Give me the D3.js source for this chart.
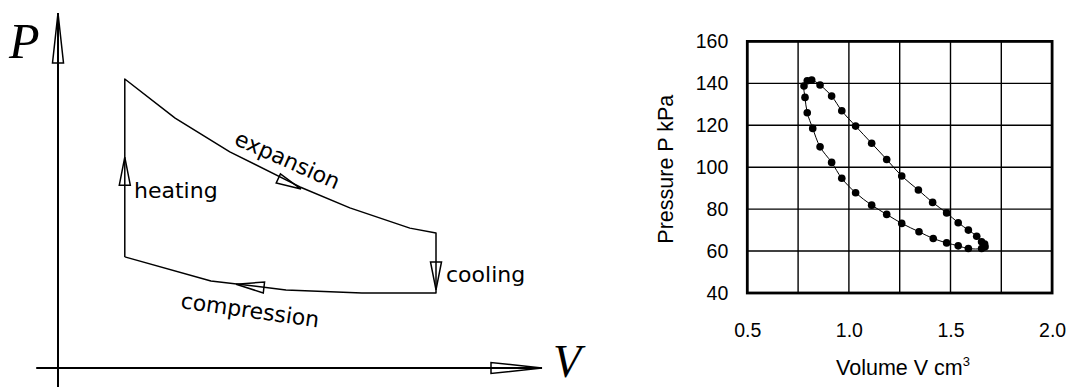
<!DOCTYPE html>
<html>
<head>
<meta charset="utf-8">
<script src="https://cdn.jsdelivr.net/npm/d3@7"></script>
<style>
  html, body { margin: 0; padding: 0; background: #fff; }
  svg { display: block; }
</style>
</head>
<body>
<svg id="chart" width="1070" height="387"></svg>
<script>
// ---- Schematic cycle (left): V and P in arbitrary units ----
const expansionV = [1.38, 2.42, 3.55, 5.00, 6.03, 7.27, 7.81];
const expansionP = [8.14, 7.04, 6.09, 5.10, 4.51, 3.94, 3.80];
const compressionV = [7.81, 6.28, 4.71, 3.16, 1.38];
const compressionP = [2.11, 2.11, 2.20, 2.45, 3.13];
const strokeLabels = ["heating", "expansion", "cooling", "compression"];

// ---- Measured loop (right) ----
const volume = [0.795, 0.817, 0.858, 0.915, 0.965, 1.033, 1.112, 1.186, 1.260, 1.342,
                1.412, 1.481, 1.538, 1.588, 1.629, 1.653, 1.668, 1.670, 1.653, 1.588,
                1.538, 1.481, 1.415, 1.345, 1.260, 1.186, 1.112, 1.033, 0.965, 0.915,
                0.858, 0.822, 0.795, 0.784, 0.779];
const pressure = [141.2, 141.6, 139.2, 133.9, 126.9, 119.6, 111.4, 103.7, 95.8, 89.1,
                  83.2, 78.2, 73.5, 70.0, 67.1, 64.4, 63.4, 62.0, 61.2, 61.2,
                  62.5, 63.9, 66.0, 69.2, 73.2, 77.5, 81.9, 87.8, 94.7, 102.3,
                  109.7, 118.5, 126.0, 133.3, 138.7];
const volumeTicks = [0.5, 1.0, 1.5, 2.0];
const pressureTicks = [40, 60, 80, 100, 120, 140, 160];

const svg = d3.select("#chart");

// ================= Left: schematic P–V diagram =================
const xL = d3.scaleLinear().domain([0, 10]).range([58, 542]);
const yL = d3.scaleLinear().domain([0, 10]).range([368, 13]);
const left = svg.append("g");

// outlined arrowhead whose tip sits at (tx, ty), pointing along angle a
function arrowHead(g, tx, ty, a, len, hw) {
  const c = Math.cos(a), s = Math.sin(a);
  const bx = tx - c * len, by = ty - s * len;
  const pts = [[tx, ty], [bx - s * hw, by + c * hw], [bx + s * hw, by - c * hw]];
  g.append("path")
    .attr("d", d3.line()(pts) + "Z")
    .attr("fill", "none")
    .attr("stroke", "#000")
    .attr("stroke-width", 1.5)
    .attr("stroke-linejoin", "miter");
}

// axes
left.append("line").attr("x1", xL(0)).attr("x2", xL(0))
  .attr("y1", yL(10)).attr("y2", 387)
  .attr("stroke", "#000").attr("stroke-width", 2);
left.append("line").attr("x1", xL(-0.45)).attr("x2", xL(10))
  .attr("y1", yL(0)).attr("y2", yL(0))
  .attr("stroke", "#000").attr("stroke-width", 2);
arrowHead(left, xL(0), yL(10), -Math.PI / 2, 50, 5.5);
arrowHead(left, xL(10), yL(0), 0, 51, 5.5);

left.append("text").attr("x", 9).attr("y", 58)
  .attr("font-family", "Liberation Serif, serif").attr("font-style", "italic")
  .attr("font-size", 50).text("P");
left.append("text").attr("x", 553).attr("y", 377)
  .attr("font-family", "Liberation Serif, serif").attr("font-style", "italic")
  .attr("font-size", 46).text("V");

// cycle path: heating up, expansion, cooling down, compression back
const cyclePts = [];
cyclePts.push([compressionV[compressionV.length - 1], compressionP[compressionP.length - 1]]);
expansionV.forEach((v, i) => cyclePts.push([v, expansionP[i]]));
compressionV.forEach((v, i) => cyclePts.push([v, compressionP[i]]));
left.append("path")
  .attr("d", d3.line().x(d => xL(d[0])).y(d => yL(d[1]))(cyclePts))
  .attr("fill", "none").attr("stroke", "#000").attr("stroke-width", 1.5)
  .attr("stroke-linejoin", "round");

// direction arrows on each stroke
const vH = expansionV[0];
arrowHead(left, xL(vH), yL(5.94), -Math.PI / 2, 28, 5.5);
const vC = expansionV[expansionV.length - 1];
arrowHead(left, xL(vC), yL(2.2), Math.PI / 2, 28, 5.5);
{
  // expansion / compression arrows follow the segment they sit on
  const a = Math.atan2(yL(expansionP[4]) - yL(expansionP[2]), xL(expansionV[4]) - xL(expansionV[2]));
  arrowHead(left, xL(5.02), yL(5.04), a, 25, 5);
  const b = Math.atan2(yL(compressionP[3]) - yL(compressionP[2]), xL(compressionV[3]) - xL(compressionV[2]));
  arrowHead(left, xL(3.68), yL(2.36), b, 28, 5.5);
}

const lblFont = "DejaVu Sans, sans-serif";
const lblSize = 22;
left.append("text").attr("x", 134).attr("y", 198)
  .attr("font-family", lblFont).attr("font-size", lblSize).text(strokeLabels[0]);
left.append("text").attr("transform", "translate(233,144) rotate(24)")
  .attr("font-family", lblFont).attr("font-size", lblSize).text(strokeLabels[1]);
left.append("text").attr("x", 446).attr("y", 282)
  .attr("font-family", lblFont).attr("font-size", lblSize).text(strokeLabels[2]);
left.append("text").attr("transform", "translate(180,308) rotate(8)")
  .attr("font-family", lblFont).attr("font-size", lblSize).text(strokeLabels[3]);

// ================= Right: measured P–V loop =================
const xR = d3.scaleLinear().domain([0.5, 2.0]).range([747.3, 1052.1]);
const yR = d3.scaleLinear().domain([40, 160]).range([293, 41.4]);
const right = svg.append("g");
const sansR = "Liberation Sans, Arial, Helvetica, sans-serif";

// grid
const xGrid = d3.range(0.5, 2.0001, 0.25);
right.selectAll(".vg").data(xGrid).join("line")
  .attr("x1", d => xR(d)).attr("x2", d => xR(d))
  .attr("y1", yR(40)).attr("y2", yR(160))
  .attr("stroke", "#000").attr("stroke-width", 1.4);
right.selectAll(".hg").data(pressureTicks).join("line")
  .attr("x1", xR(0.5)).attr("x2", xR(2.0))
  .attr("y1", d => yR(d)).attr("y2", d => yR(d))
  .attr("stroke", "#000").attr("stroke-width", 1.4);
right.append("rect")
  .attr("x", xR(0.5)).attr("y", yR(160))
  .attr("width", xR(2.0) - xR(0.5)).attr("height", yR(40) - yR(160))
  .attr("fill", "none").attr("stroke", "#000").attr("stroke-width", 2.8);

// tick labels via d3 axes (domain and tick lines hidden)
const xAxis = right.append("g").attr("transform", `translate(0,${yR(40)})`)
  .call(d3.axisBottom(xR).tickValues(volumeTicks).tickFormat(d3.format(".1f")).tickSize(0).tickPadding(30));
const yAxis = right.append("g").attr("transform", `translate(${xR(0.5)},0)`)
  .call(d3.axisLeft(yR).tickValues(pressureTicks).tickFormat(d3.format("d")).tickSize(0).tickPadding(19));
[xAxis, yAxis].forEach(g => {
  g.select(".domain").remove();
  g.selectAll("text").attr("font-family", sansR).attr("font-size", 19.5).attr("fill", "#000");
});

// axis titles
right.append("text")
  .attr("transform", `translate(673,${(yR(40) + yR(160)) / 2 + 2}) rotate(-90)`)
  .attr("text-anchor", "middle").attr("font-family", sansR).attr("font-size", 21.5)
  .text("Pressure P kPa");
const xt = right.append("text").attr("x", 903).attr("y", 375)
  .attr("text-anchor", "middle").attr("font-family", sansR).attr("font-size", 21.5);
xt.append("tspan").text("Volume V cm");
xt.append("tspan").attr("dy", -9).attr("font-size", 13).text("3");

// loop line and markers
const loop = volume.map((v, i) => [v, pressure[i]]);
right.append("path")
  .attr("d", d3.line().x(d => xR(d[0])).y(d => yR(d[1])).curve(d3.curveCatmullRomClosed)(loop))
  .attr("fill", "none").attr("stroke", "#000").attr("stroke-width", 1);
right.selectAll(".pt").data(loop).join("circle")
  .attr("cx", d => xR(d[0])).attr("cy", d => yR(d[1])).attr("r", 3.8)
  .attr("fill", "#000");
</script>
</body>
</html>
